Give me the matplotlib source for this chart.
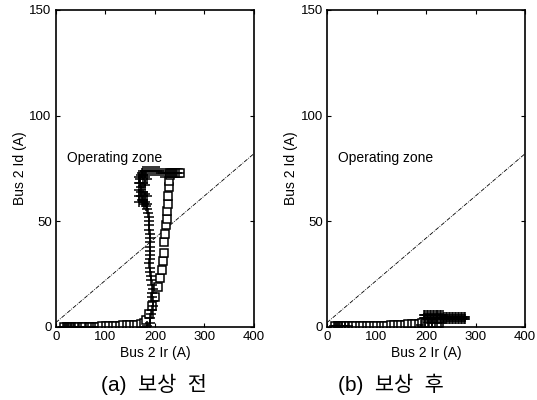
import matplotlib
matplotlib.use("Agg")
import matplotlib.pyplot as plt

plt.rcParams['font.family'] = ['Liberation Sans', 'Noto Sans CJK KR', 'DejaVu Sans']

# ---------------- data ----------------
x_ticks = [0, 100, 200, 300, 400]
y_ticks = [0, 50, 100, 150]
zone_line_x = [0, 400]
zone_line_y = [2, 82]

# (a) before compensation
sq_a_x = [17, 24, 31, 38, 45, 52, 59, 66, 73, 80, 87, 94, 101, 108, 115, 122, 129, 136,
          143, 150, 157, 164, 171, 177, 182, 188, 195, 201, 207, 210, 214, 216, 218, 219,
          221, 223, 224, 225, 226, 227, 228, 229, 230, 231, 234, 238, 242, 246, 250]
sq_a_y = [0, 0, 0, 0, 0, 0, 0, 0, 0, 0, 0, 0.3, 0.3, 0.3, 0.3, 0.5, 0.5, 0.8,
          1, 1, 1, 1, 1.2, 2, 3, 6, 10, 14, 19, 23, 27, 31, 35, 40,
          44, 48, 51, 55, 58, 62, 66, 69, 72, 73, 73, 73, 73, 73, 73]

pl_a_x = [15, 18, 21, 24, 27, 30, 34, 38, 46, 60, 75, 185,
          190, 191, 193, 195, 196, 197, 195, 194, 196, 195, 193, 192, 191, 190, 189, 190,
          190, 190, 191, 190, 190, 190, 189, 189, 188, 188, 187, 185, 182, 178, 175, 173,
          172, 171, 171, 170, 170, 171, 173, 176, 180, 184, 188, 192, 196, 200, 204, 208,
          212, 216, 220, 224, 228, 232, 236, 240, 244, 248,
          168, 168, 168, 168, 168, 176, 176, 176, 176, 180, 180, 180, 180, 184, 184, 184]
pl_a_y = [0, 0, 0, 0, 0, 0, 0, 0, 0, 0, 0, 0.5,
          2, 4, 6, 8, 10, 12, 14, 16, 18, 20, 22, 24, 26, 28, 30, 32,
          34, 36, 38, 40, 42, 44, 46, 48, 50, 52, 54, 56, 57, 58, 59, 60,
          62, 64, 66, 68, 70, 72, 73, 74, 74, 74, 74, 74, 74, 74, 74, 74,
          73, 73, 73, 73, 73, 73, 73, 73, 73, 73,
          59, 62, 65, 68, 71, 60, 64, 68, 72, 59, 63, 67, 71, 58, 62, 70]

# (b) after compensation
sq_b_x = [17, 24, 31, 38, 45, 52, 59, 66, 73, 80, 87, 94, 101, 108, 115, 122, 129, 136,
          143, 150, 157, 164, 171, 178, 185, 192, 199, 206, 213, 220, 227]
sq_b_y = [0.3, 0.3, 0.3, 0.3, 0.3, 0.3, 0.3, 0.3, 0.3, 0.3, 0.3, 0.3, 0.5, 0.5, 0.5, 0.5,
          0.8, 0.8, 1, 1, 1, 1.2, 1.2, 1.5, 1.5, 1.8, 1.8, 2, 2, 2, 2]

pl_b_x = [15, 18, 21, 24, 27, 30, 36, 42, 190,
          195, 198, 201, 204, 207, 210, 213, 216, 219, 222, 225, 228, 231, 234,
          195, 198, 201, 204, 207, 210, 213, 216, 219, 222, 225, 228, 231, 234,
          237, 240, 243, 246, 249, 252, 255, 258, 261, 264, 267, 270, 273, 276, 278,
          237, 240, 243, 246, 249, 252, 255, 258, 261, 264, 267, 270, 273, 276, 278,
          203, 212, 221, 230]
pl_b_y = [0.3, 0.3, 0.3, 0.3, 0.3, 0.3, 0.3, 0.3, 1,
          5.5, 5.5, 5.5, 5.5, 5.5, 5.5, 5.5, 5.5, 5.5, 5.5, 5.5, 5.5, 5.5, 5.5,
          4, 4, 4, 4, 4, 4, 4, 4, 4, 4, 4, 4, 4, 4,
          4.8, 4.8, 4.8, 4.8, 4.8, 4.8, 4.8, 4.8, 4.8, 4.8, 4.8, 4.8, 4.8, 4.8, 4.8,
          3.5, 3.5, 3.5, 3.5, 3.5, 3.5, 3.5, 3.5, 3.5, 3.5, 3.5, 3.5, 3.5, 3.5, 3.5,
          2, 2, 2, 2]

captions = ["(a)  보상  전", "(b)  보상  후"]
xlabel = "Bus 2 Ir (A)"
ylabel = "Bus 2 Id (A)"
zone_text = "Operating zone"

# ---------------- figure ----------------
fig = plt.figure(figsize=(5.37, 4.0), dpi=100)
ax1 = fig.add_axes([0.104, 0.183, 0.369, 0.792])
ax2 = fig.add_axes([0.609, 0.183, 0.369, 0.792])

panels = [(ax1, sq_a_x, sq_a_y, pl_a_x, pl_a_y), (ax2, sq_b_x, sq_b_y, pl_b_x, pl_b_y)]
for ax, sx, sy, px, py in panels:
    ax.plot(zone_line_x, zone_line_y, color='black', lw=0.6, ls=(0, (5, 1.5, 1, 1.5)))
    ax.plot(sx, sy, ls='none', marker='s', ms=6, mfc='white', mec='black', mew=1.1)
    ax.plot(px, py, ls='none', marker='+', ms=7, mec='black', mew=1.1)
    ax.text(22, 80, zone_text, fontsize=10, va='center', ha='left')
    ax.set_xlim(0, 400)
    ax.set_ylim(0, 150)
    ax.set_xticks(x_ticks)
    ax.set_yticks(y_ticks)
    ax.tick_params(direction='in', top=True, right=True, length=3, width=0.8,
                   labelsize=9.5, pad=3)
    for s in ax.spines.values():
        s.set_linewidth(1.2)
    ax.set_xlabel(xlabel, fontsize=10, labelpad=2)
    ax.set_ylabel(ylabel, fontsize=10, labelpad=2)

fig.text(0.287, 0.038, captions[0], fontsize=15, ha='center', va='center')
fig.text(0.727, 0.038, captions[1], fontsize=15, ha='center', va='center')

fig.savefig("out.png", dpi=100)
